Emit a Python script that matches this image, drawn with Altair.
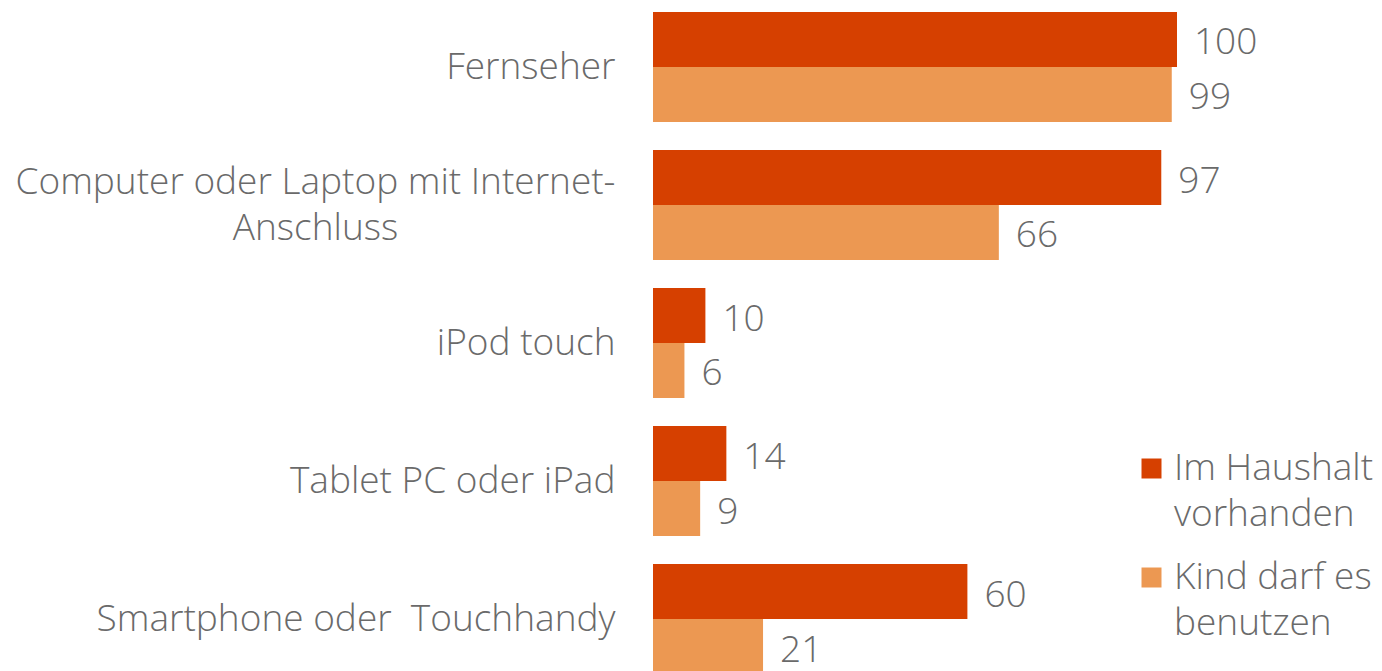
import altair as alt
import pandas as pd

categories = [
    "Fernseher",
    "Computer oder Laptop mit Internet-|Anschluss",
    "iPod touch\u00a0",
    "Tablet PC oder iPad\u00a0",
    "Smartphone oder \u00a0Touchhandy",
]
series = ["Im Haushalt|vorhanden", "Kind darf es|benutzen"]
haushalt = [100, 97, 10, 14, 60]
kind = [99, 66, 6, 9, 21]
colors = ["#D64000", "#EC9852"]

rows = []
for c, h, k in zip(categories, haushalt, kind):
    rows.append({"cat": c, "series": series[0], "value": h})
    rows.append({"cat": c, "series": series[1], "value": k})
df = pd.DataFrame(rows)

FONT = "Open Sans"
TXT = "#6a6a6a"
FS = 37
MULTI = "indexof(datum.value, '|') >= 0"

y_enc = alt.Y(
    "cat:N",
    sort=categories,
    scale=alt.Scale(paddingInner=0.203, paddingOuter=0),
    axis=alt.Axis(
        title=None,
        domain=False,
        ticks=False,
        labelFont=FONT,
        labelFontWeight=300,
        labelFontSize=FS,
        labelColor=TXT,
        labelLimit=0,
        labelLineHeight=46,
        labelExpr="split(datum.label, '|')",
        labelAlign={"condition": {"test": MULTI, "value": "center"}, "value": "right"},
        labelPadding={"condition": {"test": MULTI, "value": 338}, "value": 38},
        labelOffset={"condition": {"test": MULTI, "value": -22}, "value": 1},
    ),
)
yoff = alt.YOffset("series:N", sort=series, scale=alt.Scale(paddingInner=0, paddingOuter=0))
x_enc = alt.X("value:Q", scale=alt.Scale(domain=[0, 100], nice=False), axis=None)

base = alt.Chart(df)

bars = base.mark_bar(cornerRadius=0).encode(
    x=x_enc,
    y=y_enc,
    yOffset=yoff,
    color=alt.Color(
        "series:N",
        sort=series,
        scale=alt.Scale(domain=series, range=colors),
        legend=alt.Legend(
            title=None,
            orient="none",
            legendX=480,
            legendY=438,
            symbolType="square",
            symbolSize=400,
            symbolStrokeWidth=0,
            labelFont=FONT,
            labelFontWeight=300,
            labelFontSize=FS,
            labelColor=TXT,
            labelLimit=0,
            labelOffset=4,
            labelExpr="split(datum.label, '|')",
            rowPadding=25,
        ),
    ),
)

labels = base.mark_text(
    align="left", baseline="middle", dx=17, dy=4, font=FONT, fontWeight=300, fontSize=FS, color=TXT
).encode(
    x=x_enc,
    y=y_enc,
    yOffset=yoff,
    text=alt.Text("value:Q"),
)

chart = (
    alt.layer(bars, labels)
    .properties(
        width=524,
        height=662,
        autosize=alt.AutoSizeParams(type="none"),
        padding={"left": 645, "top": 4, "right": 197, "bottom": 10},
    )
    .configure(
        view={"stroke": None},
        style={"guide-label": {"lineHeight": 46}},
    )
)

chart.save("out.html", embed_options={"renderer": "svg", "actions": False})
